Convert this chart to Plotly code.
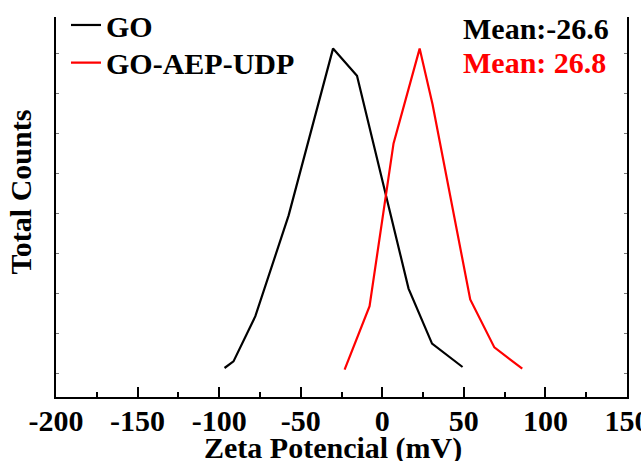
import plotly.graph_objects as go

go_x = [-96.7, -91.2, -77.8, -57.4, -30.2, -15.5, 16.1, 30.5, 49.2]
go_y = [1250, 2900, 14200, 39400, 81100, 74300, 21100, 7350, 1500]
udp_x = [-23.1, -7.8, 6.9, 22.9, 30.8, 53.9, 68.7, 85.8]
udp_y = [850, 16700, 57400, 81100, 67200, 18400, 6400, 1100]

x_ticks = [-200, -150, -100, -50, 0, 50, 100, 150]
mean_go = "Mean:-26.6"
mean_udp = "Mean: 26.8"

FONT = "Liberation Serif"

fig = go.Figure()
fig.add_trace(go.Scatter(x=go_x, y=go_y, mode="lines", name="<b>GO</b>",
                         line=dict(color="black", width=2.2), legend="legend"))
fig.add_trace(go.Scatter(x=udp_x, y=udp_y, mode="lines", name="<b>GO-AEP-UDP</b>",
                         line=dict(color="red", width=2.2), legend="legend2"))

leg_common = dict(xanchor="left", yanchor="middle", bgcolor="rgba(0,0,0,0)",
                  font=dict(family=FONT, size=30, color="black"), borderwidth=0)

fig.update_layout(
    width=641, height=461,
    margin=dict(l=56, r=14, t=17, b=64, autoexpand=False),
    paper_bgcolor="white", plot_bgcolor="white",
    font=dict(family=FONT, size=30, color="black"),
    showlegend=True,
    legend=dict(x=0.0175, y=0.979, **leg_common),
    legend2=dict(x=0.0175, y=0.880, **leg_common),
    xaxis=dict(range=[-200, 150], tickvals=x_ticks,
               ticktext=[f"<b>{v}</b>" for v in x_ticks],
               ticks="inside", ticklen=10, tickwidth=1.5, tickcolor="black",
               minor=dict(ticks="inside", ticklen=5, tickwidth=1.5, dtick=25, tickcolor="black"),
               showline=True, linewidth=2, linecolor="black",
               showgrid=False, zeroline=False, ticklabeloverflow="allow",
               ticklabelstandoff=-4, automargin=False,
               tickfont=dict(family=FONT, size=30, color="black")),
    yaxis=dict(range=[-6000, 89000], tick0=0, dtick=10000,
               ticks="inside", ticklen=3, tickwidth=1, tickcolor="#777",
               showticklabels=False, mirror="ticks", automargin=False,
               showline=True, linewidth=2, linecolor="black",
               showgrid=False, zeroline=False),
)

fig.add_annotation(text="<b>Zeta Potencial (mV)</b>", xref="paper", yref="paper",
                   x=0.485, y=-0.134, xanchor="center", yanchor="middle", showarrow=False,
                   font=dict(family=FONT, size=30, color="black"))
fig.add_annotation(text="<b>Total Counts</b>", xref="paper", yref="paper",
                   x=-0.062, y=0.54, xanchor="center", yanchor="middle", textangle=-90,
                   showarrow=False, font=dict(family=FONT, size=30, color="black"))
fig.add_annotation(text=f"<b>{mean_go}</b>", xref="paper", yref="paper",
                   x=0.71, y=0.97, xanchor="left", yanchor="middle", showarrow=False,
                   font=dict(family=FONT, size=30, color="black"))
fig.add_annotation(text=f"<b>{mean_udp}</b>", xref="paper", yref="paper",
                   x=0.71, y=0.88, xanchor="left", yanchor="middle", showarrow=False,
                   font=dict(family=FONT, size=30, color="red"))

fig.write_html("out.html")
